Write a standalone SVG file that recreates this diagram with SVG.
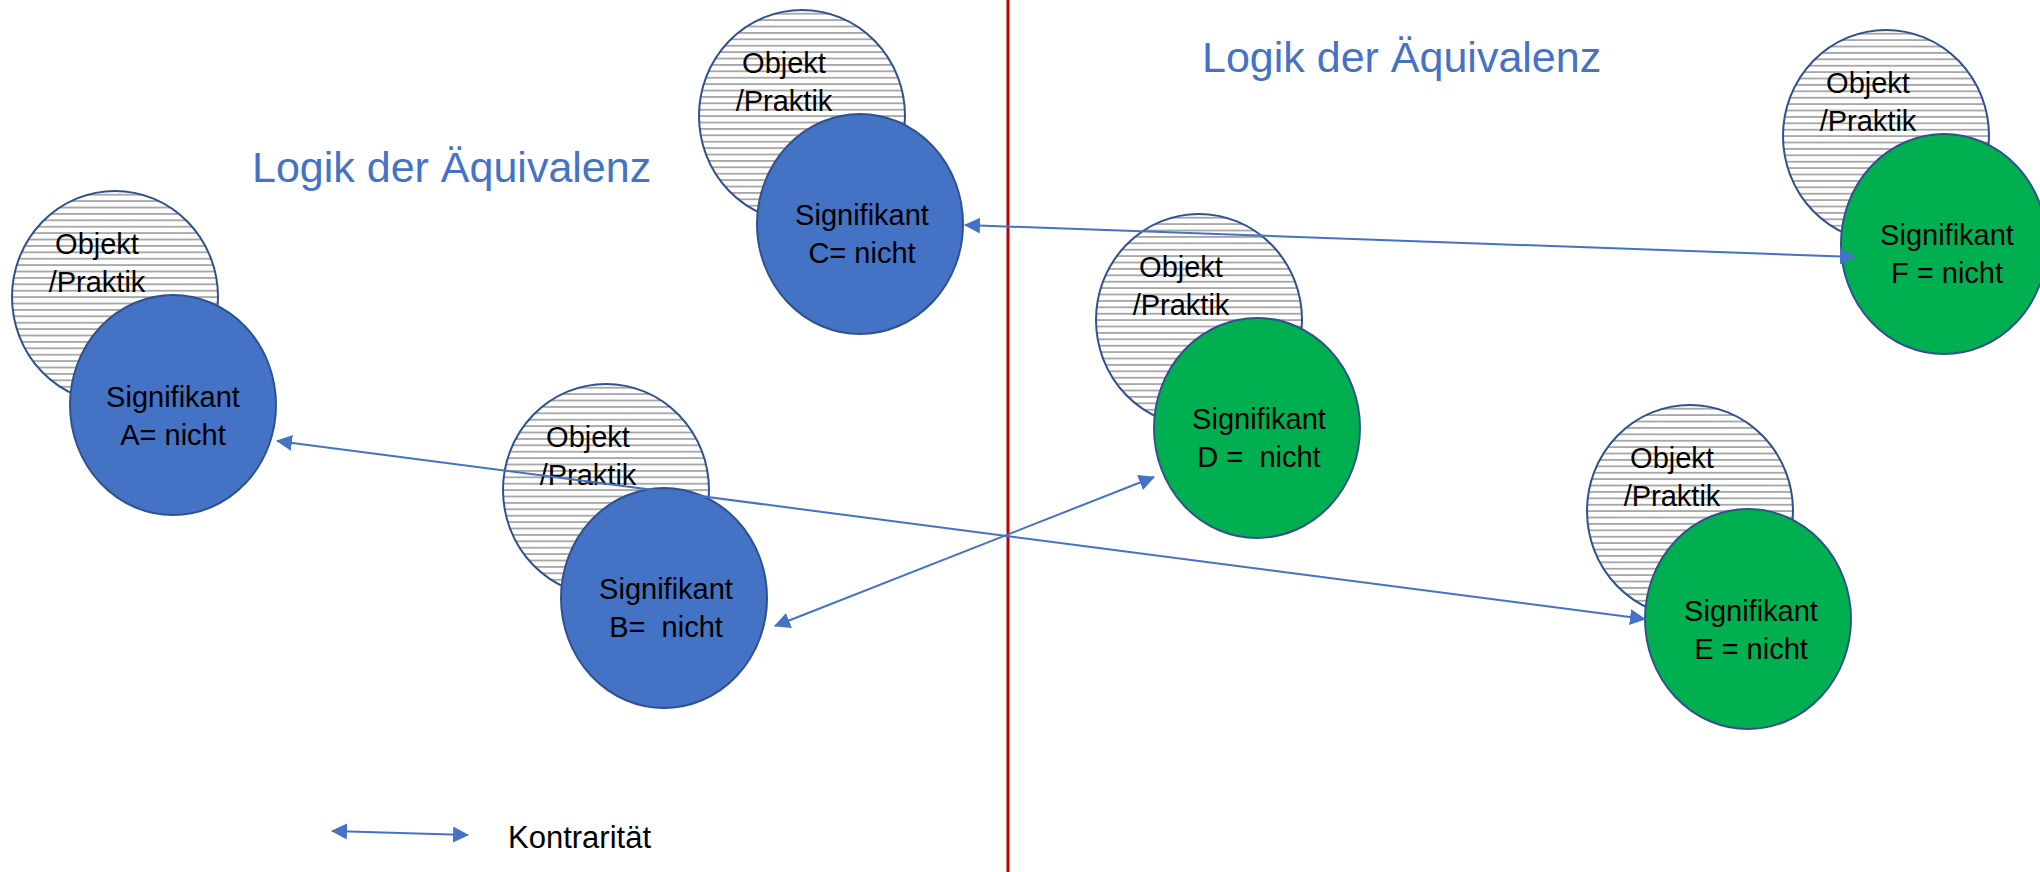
<svg xmlns="http://www.w3.org/2000/svg" width="2040" height="872" viewBox="0 0 2040 872">
<style>
.obj{fill:url(#hatch);stroke:#2F528F;stroke-width:2}
.sb{fill:#4472C4;stroke:#2F528F;stroke-width:2}
.sg{fill:#00B050;stroke:#2F528F;stroke-width:2}
.t{font-family:"Liberation Sans",Arial,sans-serif;font-size:29px;fill:#000;text-anchor:middle}
.title{font-family:"Liberation Sans",Arial,sans-serif;font-size:43px;fill:#4472C4}
.con{stroke:#4472C4;stroke-width:2;fill:none;marker-start:url(#ah);marker-end:url(#ah)}
</style>
<defs>
<pattern id="hatch" patternUnits="userSpaceOnUse" width="20" height="6.4">
<rect width="20" height="6.4" fill="#fff"/>
<rect y="0" width="20" height="1.8" fill="#A6A6A6"/>
</pattern>
<marker id="ah" viewBox="0 0 16 16" refX="15" refY="8" markerWidth="16" markerHeight="16" markerUnits="userSpaceOnUse" orient="auto-start-reverse">
<path d="M0,0 L16,8 L0,16 Z" fill="#4472C4"/>
</marker>
<g id="objekt">
<ellipse class="obj" cx="-58" cy="-108" rx="103" ry="106"/>
<text class="t" x="-76" y="-151">Objekt</text>
<text class="t" x="-76" y="-113">/Praktik</text>
</g>
</defs>
<rect width="2040" height="872" fill="#fff"/>
<line x1="1008" y1="0" x2="1008" y2="872" stroke="#C00000" stroke-width="3"/>
<text class="title" x="252" y="182">Logik der Äquivalenz</text>
<text class="title" x="1202" y="72">Logik der Äquivalenz</text>
<g id="nodeA" transform="translate(173,405)">
<use href="#objekt"/>
<ellipse class="sb" cx="0" cy="0" rx="103" ry="110"/>
<text class="t" x="0" y="2">Signifikant</text>
<text class="t" x="0" y="40">A= nicht</text>
</g>
<g id="nodeB" transform="translate(664,598)">
<use href="#objekt"/>
<ellipse class="sb" cx="0" cy="0" rx="103" ry="110"/>
<text class="t" x="2" y="1">Signifikant</text>
<text class="t" x="2" y="39" xml:space="preserve">B=  nicht</text>
</g>
<g id="nodeC" transform="translate(860,224)">
<use href="#objekt"/>
<ellipse class="sb" cx="0" cy="0" rx="103" ry="110"/>
<text class="t" x="2" y="1">Signifikant</text>
<text class="t" x="2" y="39">C= nicht</text>
</g>
<g id="nodeD" transform="translate(1257,428)">
<use href="#objekt"/>
<ellipse class="sg" cx="0" cy="0" rx="103" ry="110"/>
<text class="t" x="2" y="1">Signifikant</text>
<text class="t" x="2" y="39" xml:space="preserve">D =  nicht</text>
</g>
<g id="nodeE" transform="translate(1748,619)">
<use href="#objekt"/>
<ellipse class="sg" cx="0" cy="0" rx="103" ry="110"/>
<text class="t" x="3" y="2">Signifikant</text>
<text class="t" x="3" y="40">E = nicht</text>
</g>
<g id="nodeF" transform="translate(1944,244)">
<use href="#objekt"/>
<ellipse class="sg" cx="0" cy="0" rx="103" ry="110"/>
<text class="t" x="3" y="1">Signifikant</text>
<text class="t" x="3" y="39">F = nicht</text>
</g>
<g id="connectors">
<line class="con" x1="277" y1="441" x2="1645" y2="619"/>
<line class="con" x1="775" y1="626" x2="1154" y2="477"/>
<line class="con" x1="965" y1="225" x2="1855" y2="257"/>
</g>
<g id="legend">
<line class="con" x1="332" y1="831" x2="468" y2="835"/>
<text x="508" y="848" font-family="Liberation Sans, Arial, sans-serif" font-size="31" fill="#000">Kontrarität</text>
</g>
</svg>
